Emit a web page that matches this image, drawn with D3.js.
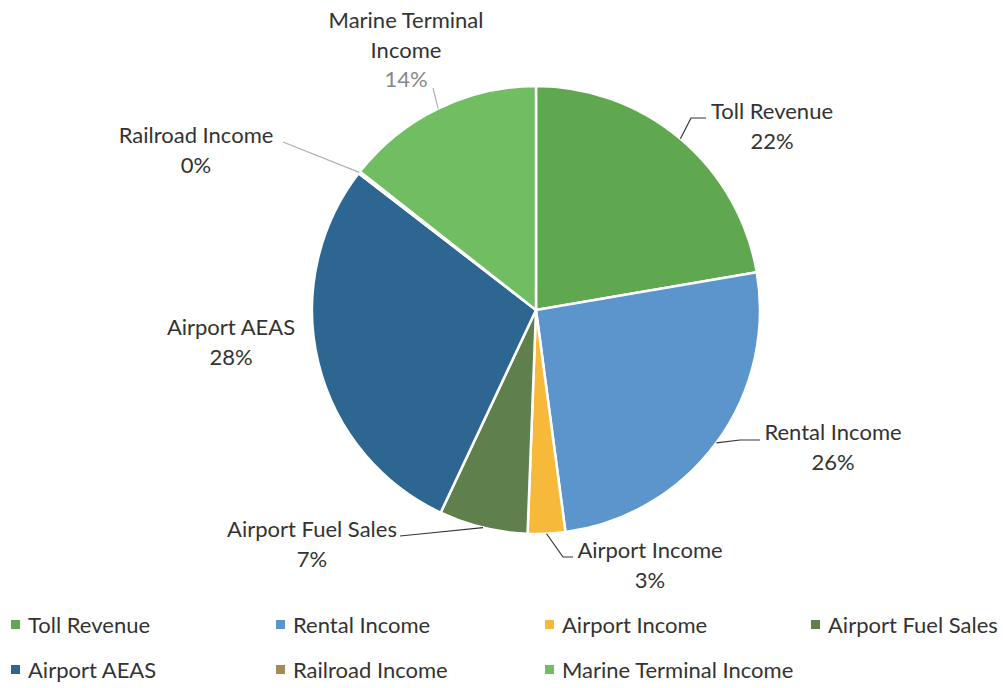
<!DOCTYPE html>
<html>
<head>
    <meta charset="utf-8">
    <title>Revenue Sources</title>
    <style>
        body {
            margin: 0;
            background: #fff;
            font-family: Lato, "Open Sans", Arial, sans-serif;
        }
        svg {
            display: block;
        }
        .lbl {
            font-size: 22px;
            fill: #333;
        }
        .legend text {
            font-size: 22px;
            fill: #333;
        }
    </style>
</head>
<body>
    <script src="https://cdn.jsdelivr.net/npm/d3@7"></script>
    <script>
        // Data (shares)
        var categories = ["Toll Revenue", "Rental Income", "Airport Income", "Airport Fuel Sales",
                          "Airport AEAS", "Railroad Income", "Marine Terminal Income"];
        var shares = [22.3, 25.6, 2.7, 6.4, 28.45, 0.15, 14.4];
        var pctLabels = ["22%", "26%", "3%", "7%", "28%", "0%", "14%"];
        var colors = ["#5fa84f", "#5b95cb", "#f7b93a", "#5f7f4c", "#2c6691", "#a38b55", "#71bd62"];

        // label text lines (Excel wraps the long one)
        var labelLines = [
            ["Toll Revenue", "22%"],
            ["Rental Income", "26%"],
            ["Airport Income", "3%"],
            ["Airport Fuel Sales", "7%"],
            ["Airport AEAS", "28%"],
            ["Railroad Income", "0%"],
            ["Marine Terminal", "Income", "14%"]
        ];

        var width = 1003, height = 688;
        var cx = 536, cy = 310, radius = 224;

        var svg = d3.select("body").append("svg")
            .attr("width", width)
            .attr("height", height);

        var data = categories.map(function(c, i) {
            return { name: c, value: shares[i], color: colors[i], lines: labelLines[i], pct: pctLabels[i] };
        });

        var pie = d3.pie().sort(null).value(function(d) { return d.value; });
        var arc = d3.arc().innerRadius(0).outerRadius(radius);
        var arcs = pie(data);

        var g = svg.append("g").attr("transform", "translate(" + cx + "," + cy + ")");

        g.selectAll("path")
            .data(arcs)
            .enter().append("path")
            .attr("d", arc)
            .attr("fill", function(d) { return d.data.color; })
            .attr("stroke", "#fff")
            .attr("stroke-width", 2.5)
            .attr("stroke-linejoin", "round");

        // label placement (layout only): text centre, first baseline, leader elbow points
        var labelLayout = [
            { x: 772, y: 119, leader: [[691, 118], [706, 118]], dark: true },
            { x: 833, y: 440, leader: [[740, 440], [760, 440]], dark: true },
            { x: 650, y: 558, leader: [[563, 557], [573, 557]], dark: true },
            { x: 312, y: 537, leader: [[430, 533], [400, 536]], dark: true },
            { x: 231, y: 335, leader: null },
            { x: 196, y: 143, leader: [[283, 142]], dark: false },
            { x: 406, y: 28, leader: [[433, 88]], dark: false }
        ];

        function edgePoint(d) {
            var a = (d.startAngle + d.endAngle) / 2;
            return [cx + radius * Math.sin(a), cy - radius * Math.cos(a)];
        }

        // leader lines
        arcs.forEach(function(d, i) {
            var lay = labelLayout[i];
            if (!lay.leader) return;
            var pts = [edgePoint(d)].concat(lay.leader);
            svg.append("path")
                .attr("d", d3.line()(pts))
                .attr("fill", "none")
                .attr("stroke", lay.dark ? "#333" : "#b0b0b0")
                .attr("stroke-width", 1.2);
        });

        // labels
        arcs.forEach(function(d, i) {
            var lay = labelLayout[i];
            var t = svg.append("text")
                .attr("class", "lbl")
                .attr("text-anchor", "middle")
                .attr("x", lay.x)
                .attr("y", lay.y);
            d.data.lines.forEach(function(line, k) {
                var isPct = k === d.data.lines.length - 1;
                t.append("tspan")
                    .attr("x", lay.x)
                    .attr("dy", k === 0 ? 0 : 29.5)
                    .style("fill", isPct && d.data.name === "Marine Terminal Income" ? "#888" : null)
                    .text(line);
            });
        });

        // legend: 4 columns, 2 rows
        var colX = [11, 276, 545, 811];
        var rowY = [625, 670];
        var legend = svg.append("g").attr("class", "legend");
        data.forEach(function(d, i) {
            var x = colX[i % 4], y = rowY[Math.floor(i / 4)];
            legend.append("rect")
                .attr("x", x)
                .attr("y", y - 5)
                .attr("width", 9)
                .attr("height", 9)
                .attr("fill", d.color);
            legend.append("text")
                .attr("x", x + 17)
                .attr("y", y + 8)
                .text(d.name);
        });
    </script>
</body>
</html>
